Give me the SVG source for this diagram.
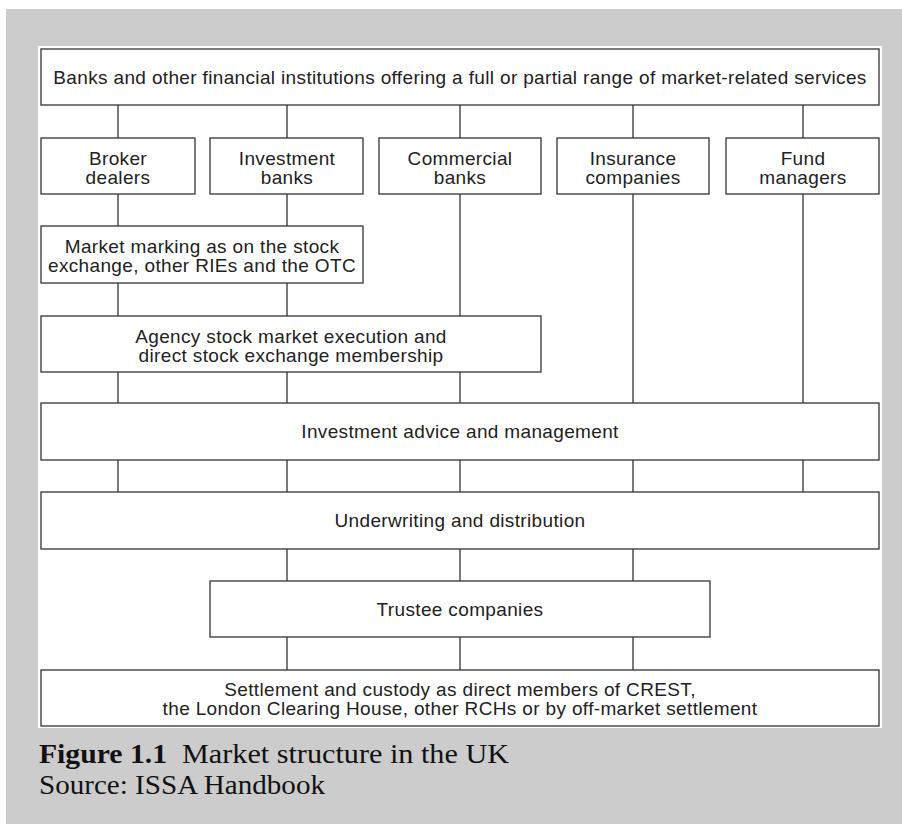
<svg xmlns="http://www.w3.org/2000/svg" width="902" height="824" viewBox="0 0 902 824">
  <style>
    .box { fill: #ffffff; stroke: #333333; stroke-width: 1.3; }
    .lbl { font-family: "Liberation Sans", Arial, sans-serif; font-size: 19px; letter-spacing: 0.35px; fill: #222222; text-anchor: middle; }
    .link { stroke: #333333; stroke-width: 1.3; fill: none; }
    .cap { font-family: "Liberation Serif", "Times New Roman", serif; font-size: 27px; fill: #111111; }
  </style>
  <!-- page background -->
  <rect x="0" y="0" width="902" height="824" fill="#ffffff"/>
  <rect x="6" y="9" width="896" height="815" fill="#cccccc"/>
  <rect x="38" y="46" width="844" height="682" fill="#ffffff"/>

  <g id="connectors">
    <path class="link" d="M118 105V138 M287 105V138 M460 105V138 M633 105V138 M803 105V138"/>
    <path class="link" d="M118 194V226 M287 194V226"/>
    <path class="link" d="M460 194V316"/>
    <path class="link" d="M633 194V403 M803 194V403"/>
    <path class="link" d="M118 283V316 M287 283V316"/>
    <path class="link" d="M118 372V403 M287 372V403 M460 372V403"/>
    <path class="link" d="M118 460V492 M287 460V492 M460 460V492 M633 460V492 M803 460V492"/>
    <path class="link" d="M287 549V581 M460 549V581 M633 549V581"/>
    <path class="link" d="M287 637V670 M460 637V670 M633 637V670"/>
  </g>

  <g id="institutions">
    <rect class="box" x="41" y="49" width="838" height="56"/>
    <text class="lbl" x="460" y="84">Banks and other financial institutions offering a full or partial range of market-related services</text>
  </g>

  <g id="broker-dealers">
    <rect class="box" x="41" y="138" width="154" height="56"/>
    <text class="lbl" x="118" y="164.5">Broker</text>
    <text class="lbl" x="118" y="184">dealers</text>
  </g>
  <g id="investment-banks">
    <rect class="box" x="210" y="138" width="153" height="56"/>
    <text class="lbl" x="287" y="164.5">Investment</text>
    <text class="lbl" x="287" y="184">banks</text>
  </g>
  <g id="commercial-banks">
    <rect class="box" x="379" y="138" width="162" height="56"/>
    <text class="lbl" x="460" y="164.5">Commercial</text>
    <text class="lbl" x="460" y="184">banks</text>
  </g>
  <g id="insurance-companies">
    <rect class="box" x="557" y="138" width="152" height="56"/>
    <text class="lbl" x="633" y="164.5">Insurance</text>
    <text class="lbl" x="633" y="184">companies</text>
  </g>
  <g id="fund-managers">
    <rect class="box" x="726" y="138" width="153" height="56"/>
    <text class="lbl" x="803" y="164.5">Fund</text>
    <text class="lbl" x="803" y="184">managers</text>
  </g>

  <g id="market-making">
    <rect class="box" x="41" y="226" width="322" height="57"/>
    <text class="lbl" x="202" y="252.5">Market marking as on the stock</text>
    <text class="lbl" x="202" y="272">exchange, other RIEs and the OTC</text>
  </g>

  <g id="agency-execution">
    <rect class="box" x="41" y="316" width="500" height="56"/>
    <text class="lbl" x="291" y="342.5">Agency stock market execution and</text>
    <text class="lbl" x="291" y="362">direct stock exchange membership</text>
  </g>

  <g id="investment-advice">
    <rect class="box" x="41" y="403" width="838" height="57"/>
    <text class="lbl" x="460" y="438">Investment advice and management</text>
  </g>

  <g id="underwriting">
    <rect class="box" x="41" y="492" width="838" height="57"/>
    <text class="lbl" x="460" y="527">Underwriting and distribution</text>
  </g>

  <g id="trustee-companies">
    <rect class="box" x="210" y="581" width="500" height="56"/>
    <text class="lbl" x="460" y="616">Trustee companies</text>
  </g>

  <g id="settlement">
    <rect class="box" x="41" y="670" width="838" height="56"/>
    <text class="lbl" x="460" y="695.5">Settlement and custody as direct members of CREST,</text>
    <text class="lbl" x="460" y="715">the London Clearing House, other RCHs or by off-market settlement</text>
  </g>

  <g id="caption">
    <text class="cap" x="39" y="763" font-weight="bold" textLength="128" lengthAdjust="spacingAndGlyphs">Figure 1.1</text>
    <text class="cap" x="182" y="763" textLength="327" lengthAdjust="spacingAndGlyphs">Market structure in the UK</text>
    <text class="cap" x="39" y="794" textLength="286" lengthAdjust="spacingAndGlyphs">Source: ISSA Handbook</text>
  </g>
</svg>
